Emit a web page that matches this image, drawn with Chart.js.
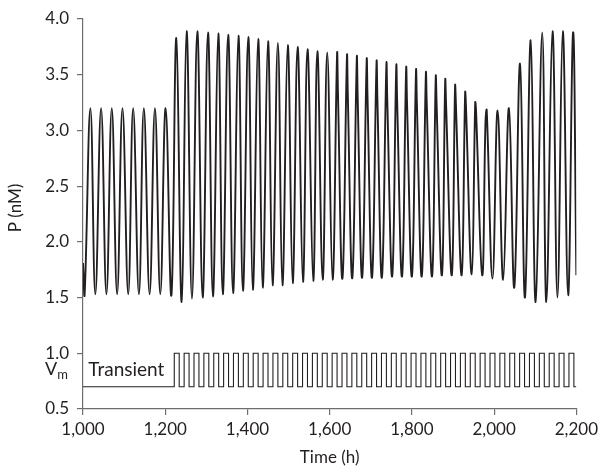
<!DOCTYPE html>
<html>
<head>
<meta charset="utf-8">
<script src="https://cdn.jsdelivr.net/npm/chart.js@4.4.1/dist/chart.umd.min.js"></script>
<style>
  html, body { margin: 0; padding: 0; background: #fff; }
  #wrap { width: 602px; height: 473px; }
</style>
</head>
<body>
<div id="wrap"><canvas id="pChart" width="602" height="473"></canvas></div>
<script>
// key points of the P curve (peaks, troughs, shoulders)
var pTime = [
  1000, 1004, 1018, 1030, 1044, 1057, 1070, 1083, 1096, 1110, 1122, 1136, 1148, 1162, 1175, 1188, 1201, 1215,
  1227, 1240, 1252, 1265, 1278, 1291, 1304, 1316, 1329, 1340, 1353, 1365, 1378, 1389, 1402, 1413,
  1426, 1437, 1450, 1461, 1474, 1485, 1498, 1510, 1522, 1535, 1546, 1560, 1570, 1583, 1594, 1607,
  1618, 1620, 1631, 1642, 1644, 1655, 1666, 1668, 1679,
  1690, 1692, 1703, 1714, 1716, 1727, 1738, 1740, 1752,
  1762, 1764, 1776, 1786, 1788, 1800, 1810, 1812, 1824,
  1834, 1836, 1849, 1858, 1860, 1873, 1881, 1883, 1897,
  1905, 1907, 1921, 1929.5, 1931.5, 1945.5, 1954, 1956, 1971,
  1979, 1982, 1996, 2008.5, 2022, 2036, 2049, 2063, 2075, 2089, 2101, 2117, 2127,
  2142, 2154, 2167, 2180, 2192, 2200
];
var pValue = [
  1.81, 1.53, 3.20, 1.53, 3.20, 1.53, 3.20, 1.53, 3.20, 1.53, 3.20, 1.53, 3.20, 1.53, 3.20, 1.53, 3.20, 1.52,
  3.83, 1.46, 3.89, 1.49, 3.89, 1.50, 3.88, 1.51, 3.87, 1.53, 3.86, 1.54, 3.85, 1.56, 3.84, 1.57,
  3.82, 1.59, 3.80, 1.61, 3.785, 1.61, 3.765, 1.63, 3.75, 1.64, 3.73, 1.65, 3.71, 1.66, 3.70, 1.66,
  3.685, 3.36, 1.67, 3.665, 3.34, 1.675, 3.65, 3.32, 1.68,
  3.63, 3.31, 1.68, 3.61, 3.30, 1.68, 3.595, 3.29, 1.69,
  3.575, 3.28, 1.69, 3.555, 3.27, 1.69, 3.535, 3.26, 1.69,
  3.51, 3.26, 1.69, 3.48, 3.25, 1.70, 3.45, 3.25, 1.70,
  3.40, 3.24, 1.70, 3.34, 3.22, 1.71, 3.25, 3.18, 1.70,
  3.08, 3.18, 1.67, 3.18, 1.66, 3.20, 1.59, 3.60, 1.50, 3.81, 1.46, 3.88, 1.46,
  3.89, 1.50, 3.89, 1.52, 3.88, 1.70
];

// Vm forcing: pulse rise and fall times (h), low and high levels
var vmRise = [
  1222, 1246, 1270, 1294, 1318, 1342, 1366, 1390, 1414, 1438, 1462, 1486, 1510, 1534,
  1558, 1582, 1606, 1630, 1654, 1678, 1702, 1726, 1750, 1774, 1798, 1822, 1846, 1870,
  1894, 1918, 1942, 1966, 1990, 2014, 2038, 2062, 2086, 2110, 2134, 2158, 2182
];
var vmFall = [
  1234, 1258, 1282, 1306, 1330, 1354, 1378, 1402, 1426, 1450, 1474, 1498, 1522, 1546,
  1570, 1594, 1618, 1642, 1666, 1690, 1714, 1738, 1762, 1786, 1810, 1834, 1858, 1882,
  1906, 1930, 1954, 1978, 2002, 2026, 2050, 2074, 2098, 2122, 2146, 2170, 2194
];
var vmLow = 0.7;
var vmHigh = 1.0;

var xTicks = [1000, 1200, 1400, 1600, 1800, 2000, 2200];
var yTicks = [0.5, 1.0, 1.5, 2.0, 2.5, 3.0, 3.5, 4.0];

document.addEventListener('DOMContentLoaded', function () {
    var ctx = document.getElementById('pChart').getContext('2d');
    var FONT = 'Lato';
    var INK = '#231f20';
    var AXIS = '#6d6e71';

    // build point lists
    var pPoints = pTime.map(function (t, i) { return { x: t, y: pValue[i] }; });
    var vmPoints = [{ x: 1000, y: vmLow }];
    for (var i = 0; i < vmRise.length; i++) {
        vmPoints.push({ x: vmRise[i], y: vmHigh });
        vmPoints.push({ x: vmFall[i], y: vmLow });
    }
    vmPoints.push({ x: 2200, y: vmLow });

    // extra text: Transient, Vm, axis titles
    var labelsPlugin = {
        id: 'labels',
        afterDraw: function (chart) {
            var c = chart.ctx;
            var xs = chart.scales.x, ys = chart.scales.y;
            c.save();
            c.fillStyle = INK;
            c.textBaseline = 'middle';

            c.font = '19px ' + FONT;
            c.textAlign = 'left';
            c.fillText('Transient', xs.getPixelForValue(1013), ys.getPixelForValue(0.855));

            // V with subscript m
            c.save();
            c.font = '13px ' + FONT;
            var mW = c.measureText('m').width;
            c.restore();
            var rx = xs.left - 15;
            var vy = ys.getPixelForValue(0.86);
            c.font = '18px ' + FONT;
            c.textAlign = 'right';
            c.fillText('V', rx - mW, vy);
            c.font = '13px ' + FONT;
            c.textAlign = 'left';
            c.fillText('m', rx - mW, vy + 6);

            // x title
            c.font = '17px ' + FONT;
            c.textAlign = 'center';
            c.fillText('Time (h)', (xs.left + xs.right) / 2, 458);

            // y title
            c.save();
            c.translate(16, 208);
            c.rotate(-Math.PI / 2);
            c.fillText('P (nM)', 0, 0);
            c.restore();
            c.restore();
        }
    };

    new Chart(ctx, {
        type: 'line',
        data: {
            datasets: [{
                label: 'P',
                data: pPoints,
                borderColor: INK,
                borderWidth: 1.9,
                pointRadius: 0,
                fill: false,
                tension: 0.42
            }, {
                label: 'Vm',
                data: vmPoints,
                borderColor: INK,
                borderWidth: 1.1,
                pointRadius: 0,
                fill: false,
                stepped: true
            }]
        },
        options: {
            responsive: false,
            animation: false,
            layout: { padding: { top: 19, right: 24, left: 0, bottom: 0 } },
            plugins: {
                legend: { display: false },
                tooltip: { enabled: false }
            },
            scales: {
                x: {
                    type: 'linear',
                    min: 1000,
                    max: 2200,
                    afterFit: function (s) { s.height = 64; },
                    afterBuildTicks: function (s) {
                        s.ticks = xTicks.map(function (v) { return { value: v }; });
                    },
                    border: { display: true, color: AXIS, width: 1.2 },
                    grid: { display: true, drawOnChartArea: false, drawTicks: true, tickLength: 6, color: AXIS, lineWidth: 1.2 },
                    ticks: {
                        color: INK,
                        padding: 4,
                        maxRotation: 0,
                        font: { family: FONT, size: 17 },
                        callback: function (v) { return v.toLocaleString('en-US'); }
                    }
                },
                y: {
                    type: 'linear',
                    min: 0.5,
                    max: 4.0,
                    afterFit: function (s) { s.width = 83; },
                    afterBuildTicks: function (s) {
                        s.ticks = yTicks.map(function (v) { return { value: v }; });
                    },
                    border: { display: true, color: AXIS, width: 1.2 },
                    grid: { display: true, drawOnChartArea: false, drawTicks: true, tickLength: 6, color: AXIS, lineWidth: 1.2 },
                    ticks: {
                        color: INK,
                        padding: 8,
                        font: { family: FONT, size: 17 },
                        callback: function (v) { return v.toFixed(1); }
                    }
                }
            }
        },
        plugins: [labelsPlugin]
    });
});
</script>
</body>
</html>
